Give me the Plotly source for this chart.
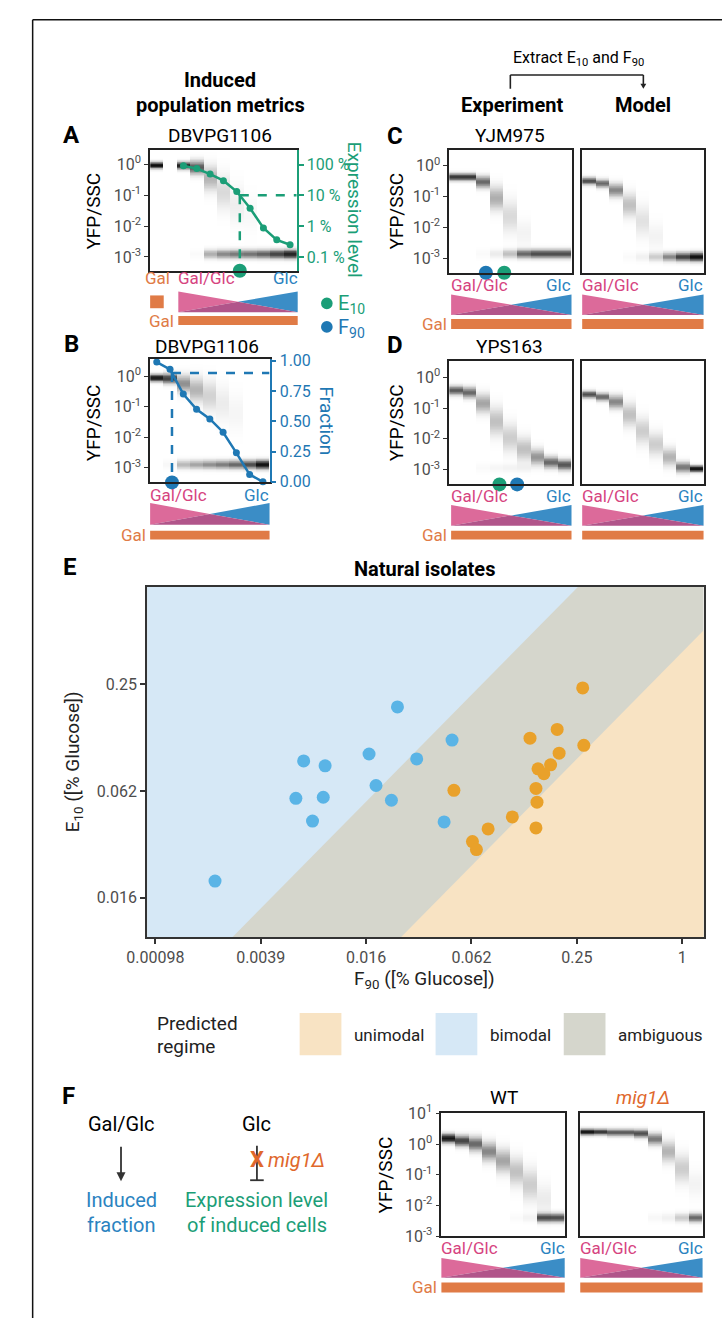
import numpy as np
import plotly.graph_objects as go

W, H = 722, 1328
FONT = "Roboto"
TICK_GRAY = "#4d4d4d"
BOX = "#222222"
GREEN = "#1b9e77"
BLUE = "#1f78b4"
PINK_TXT = "#d6447f"
BLUE_TXT = "#2b83c0"
ORANGE = "#e07b46"
ORANGE_TXT = "#e0682c"
PINK_FILL = "#dc6a9a"
BLUE_FILL = "#3b8dc6"
OVERLAP = "#b1558a"

# ---------------- data ----------------
# Panel A: DBVPG1106 (11 columns: Gal, blank, 9 Gal/Glc steps)
A_up_c = [-0.03, 0.0, -0.04, -0.10, -0.45, -0.90, -1.30, -1.60, -2.0, -2.3, -2.5]
A_up_w = [0.95, 0.0, 0.85, 0.60, 0.30, 0.15, 0.07, 0.03, 0.0, 0.0, 0.0]
A_up_s = [0.07, 0.1, 0.08, 0.15, 0.27, 0.38, 0.42, 0.40, 0.4, 0.4, 0.4]
A_lo_c = -2.92
A_lo_w = [0, 0, 0, 0.02, 0.32, 0.45, 0.50, 0.52, 0.58, 0.70, 0.85]
A_expr_cols = [2, 3, 4, 5, 6, 7, 8, 9, 10]
A_expr_pct = [91, 74, 49, 30, 13.3, 3.8, 0.87, 0.36, 0.25]

# Panel B: DBVPG1106 (9 Gal/Glc steps)
B_up_c = [-0.06, -0.08, -0.25, -0.45, -0.65, -0.90, -1.20, -1.5, -1.8]
B_up_w = [0.90, 0.70, 0.42, 0.30, 0.18, 0.08, 0.04, 0.0, 0.0]
B_up_s = [0.08, 0.11, 0.19, 0.27, 0.34, 0.40, 0.42, 0.4, 0.4]
B_lo_c = -2.90
B_lo_w = [0, 0.03, 0.28, 0.35, 0.42, 0.48, 0.55, 0.65, 0.92]
B_frac = [0.99, 0.93, 0.725, 0.60, 0.52, 0.41, 0.24, 0.06, 0.0]

# Panel C: YJM975 experiment / model
C_up_c = [-0.37, -0.37, -0.53, -1.06, -1.65, -2.2, -2.5, -2.7, -2.8]
C_up_w = [0.75, 0.75, 0.55, 0.32, 0.15, 0.05, 0, 0, 0]
C_up_s = [0.08, 0.08, 0.13, 0.26, 0.36, 0.30, 0.3, 0.3, 0.3]
C_lo_c = -2.87
C_lo_w = [0, 0, 0.02, 0.08, 0.25, 0.55, 0.65, 0.65, 0.65]
Cm_up_c = [-0.50, -0.58, -0.80, -1.28, -1.80, -2.3, -2.5, -2.7, -2.8]
Cm_up_w = [0.65, 0.55, 0.45, 0.25, 0.12, 0.05, 0, 0, 0]
Cm_up_s = [0.08, 0.09, 0.15, 0.26, 0.34, 0.30, 0.3, 0.3, 0.3]
Cm_lo_c = -2.97
Cm_lo_w = [0, 0, 0, 0.02, 0.06, 0.20, 0.45, 0.70, 0.92]
C_F90_pos, C_E10_pos = 2.2, 3.55

# Panel D: YPS163 experiment / model
D_up_c = [-0.43, -0.50, -0.85, -1.44, -1.97, -2.34, -2.60, -2.77, -2.85]
D_up_w = [0.60, 0.55, 0.35, 0.25, 0.20, 0.25, 0.40, 0.55, 0.62]
D_up_s = [0.10, 0.12, 0.21, 0.31, 0.31, 0.26, 0.18, 0.13, 0.12]
D_lo_c = -2.95
D_lo_w = [0, 0, 0.02, 0.04, 0.05, 0.05, 0, 0, 0]
Dm_up_c = [-0.56, -0.64, -0.80, -1.22, -1.75, -2.18, -2.60, -2.93, -2.98]
Dm_up_w = [0.65, 0.55, 0.45, 0.25, 0.20, 0.20, 0.30, 0.50, 0.95]
Dm_up_s = [0.08, 0.09, 0.15, 0.26, 0.29, 0.26, 0.20, 0.12, 0.07]
Dm_lo_c = -2.98
Dm_lo_w = [0, 0, 0, 0, 0, 0, 0, 0, 0]
D_E10_pos, D_F90_pos = 3.2, 4.5

# Panel E: natural isolates
E_blue_F90 = [0.0236, 0.00687, 0.00911, 0.01624, 0.0304, 0.0178, 0.00620,
              0.00889, 0.0218, 0.00772, 0.00214, 0.0484, 0.0436]
E_blue_E10 = [0.186, 0.0923, 0.0866, 0.101, 0.0947, 0.0671, 0.0568,
              0.0576, 0.0554, 0.0423, 0.0194, 0.121, 0.0418]
E_orange_F90 = [0.270, 0.193, 0.135, 0.274, 0.198, 0.177, 0.150, 0.162,
                0.0496, 0.146, 0.148, 0.107, 0.146, 0.0778, 0.0633, 0.0667]
E_orange_E10 = [0.238, 0.139, 0.124, 0.113, 0.102, 0.0877, 0.0833, 0.0782,
                0.0630, 0.0646, 0.0540, 0.0446, 0.0387, 0.0382, 0.0324, 0.0292]
E_xtick_vals = [0.0009765625, 0.00390625, 0.015625, 0.0625, 0.25, 1]
E_xtick_text = ["0.00098", "0.0039", "0.016", "0.062", "0.25", "1"]
E_ytick_vals = [0.015625, 0.0625, 0.25]
E_ytick_text = ["0.016", "0.062", "0.25"]
BIMODAL_RATIO = 4 ** 0.9     # E10 / F90 above which -> bimodal
UNIMODAL_RATIO = 4 ** -0.7   # E10 / F90 below which -> unimodal
REGIMES = ["unimodal", "bimodal", "ambiguous"]
REGIME_COLORS = ["#f8e3c3", "#d6e8f6", "#d5d6cc"]

# Panel F: WT / mig1 deletion
W_up_c = [0.18, 0.10, 0.0, -0.25, -0.55, -0.90, -1.33, -1.80, -2.2]
W_up_w = [0.90, 0.70, 0.55, 0.45, 0.35, 0.25, 0.20, 0.08, 0.0]
W_up_s = [0.10, 0.12, 0.16, 0.21, 0.26, 0.31, 0.36, 0.35, 0.3]
W_lo_c = -2.40
W_lo_w = [0, 0, 0, 0, 0, 0.02, 0.05, 0.65, 0.65]
M_up_c = [0.39, 0.39, 0.37, 0.37, 0.34, 0.16, -0.25, -0.80, -1.3]
M_up_w = [0.90, 0.75, 0.60, 0.60, 0.65, 0.50, 0.30, 0.20, 0.05]
M_up_s = [0.07, 0.07, 0.08, 0.08, 0.09, 0.13, 0.23, 0.31, 0.3]
M_lo_c = -2.40
M_lo_w = [0, 0, 0, 0, 0, 0.03, 0.06, 0.20, 0.55]

LOG_TEXT = {1: "10<sup>1</sup>", 0: "10<sup>0</sup>", -1: "10<sup>-1</sup>",
            -2: "10<sup>-2</sup>", -3: "10<sup>-3</sup>"}

# ---------------- helpers ----------------
YGRID = np.linspace(-3.6, 1.1, 236)
LO_SIGMA = 0.1
GRAY_SCALE = [[0, "#ffffff"], [0.08, "#ececec"], [0.3, "#b4b4b4"],
              [0.6, "#5a5a5a"], [1, "#000000"]]


def density(up_c, up_w, up_s, lo_c, lo_w):
    yy = YGRID[:, None]
    z = np.array(up_w)[None, :] * np.exp(-0.5 * ((yy - np.array(up_c)[None, :]) / np.array(up_s)[None, :]) ** 2)
    z = z + np.array(lo_w)[None, :] * np.exp(-0.5 * ((yy - lo_c) / LO_SIGMA) ** 2)
    return np.clip(z, 0, 1)


def xn(n):
    return "x" if n == 1 else f"x{n}"


def yn(n):
    return "y" if n == 1 else f"y{n}"


def xa(n):
    return "xaxis" if n == 1 else f"xaxis{n}"


def ya(n):
    return "yaxis" if n == 1 else f"yaxis{n}"


fig = go.Figure()
layout = dict(width=W, height=H, margin=dict(l=0, r=0, t=0, b=0),
              paper_bgcolor="white", plot_bgcolor="white", showlegend=False,
              font=dict(family=FONT, color="#000"))
shapes, ann = [], []


def T(x, y, s, size=16, color="#000", xanchor="center", yanchor="middle", angle=0):
    ann.append(dict(x=x / W, y=1 - y / H, xref="paper", yref="paper", text=s, showarrow=False,
                    font=dict(family=FONT, size=size, color=color), xanchor=xanchor,
                    yanchor=yanchor, textangle=angle))


def rect(x0, y0, x1, y1, color):
    shapes.append(dict(type="rect", xref="paper", yref="paper", x0=x0 / W, x1=x1 / W,
                       y0=1 - y1 / H, y1=1 - y0 / H, fillcolor=color, line=dict(width=0)))


def poly(pts, color):
    path = "M " + " L ".join(f"{x / W:.5f},{1 - y / H:.5f}" for x, y in pts) + " Z"
    shapes.append(dict(type="path", xref="paper", yref="paper", path=path,
                       fillcolor=color, line=dict(width=0)))


def seg(x0, y0, x1, y1, color="#222", w=1.6):
    shapes.append(dict(type="line", xref="paper", yref="paper", x0=x0 / W, y0=1 - y0 / H,
                       x1=x1 / W, y1=1 - y1 / H, line=dict(color=color, width=w)))


def circle(x, y, d, color):
    shapes.append(dict(type="circle", xref="paper", yref="paper", x0=(x - d / 2) / W,
                       x1=(x + d / 2) / W, y0=1 - (y + d / 2) / H, y1=1 - (y - d / 2) / H,
                       fillcolor=color, line=dict(width=0)))


def gradient_block(x0, x1, ylab, yt0, yt1, yb0, yb1, gal_x=None):
    T(x0 - 2, ylab, "Gal/Glc", 17, PINK_TXT, xanchor="left")
    T(x1 + 2, ylab, "Glc", 17, BLUE_TXT, xanchor="right")
    xm, ym = (x0 + x1) / 2, (yt0 + yt1) / 2
    poly([(x0, yt0), (xm, ym), (x0, yt1)], PINK_FILL)
    poly([(x1, yt0), (xm, ym), (x1, yt1)], BLUE_FILL)
    poly([(x0, yt1), (xm, ym), (x1, yt1)], OVERLAP)
    rect(x0, yb0, x1, yb1, ORANGE)
    if gal_x is not None:
        T(gal_x, (yb0 + yb1) / 2, "Gal", 17, ORANGE, xanchor="right")


def heat_axes(n, box, ncol, yr, tickvals=None, mirror_y=True):
    x0, x1, y0, y1 = box
    layout[xa(n)] = dict(domain=[x0 / W, x1 / W], anchor=yn(n), range=[-0.5, ncol - 0.5],
                         showticklabels=False, ticks="", showgrid=False, zeroline=False,
                         showline=True, mirror=True, linecolor=BOX, linewidth=1.6, fixedrange=True)
    ax = dict(domain=[1 - y1 / H, 1 - y0 / H], anchor=xn(n), range=yr, showgrid=False,
              zeroline=False, showline=True, mirror=mirror_y, linecolor=BOX, linewidth=1.6,
              fixedrange=True)
    if tickvals:
        ax.update(tickmode="array", tickvals=tickvals, ticktext=[LOG_TEXT[v] for v in tickvals],
                  ticks="outside", ticklen=4, tickwidth=1.3, tickcolor="#333",
                  tickfont=dict(family=FONT, size=16, color=TICK_GRAY))
    else:
        ax.update(showticklabels=False, ticks="")
    layout[ya(n)] = ax


def add_heat(n, z):
    fig.add_trace(go.Heatmap(x=np.arange(z.shape[1]), y=YGRID, z=z, zmin=0, zmax=1,
                             colorscale=GRAY_SCALE, showscale=False,
                             hoverinfo="skip", xaxis=xn(n), yaxis=yn(n)))


# ---------------- frame lines ----------------
seg(12, 9, 722, 9, "#111", 1.5)
seg(12, 9, 12, 1328, "#111", 1.5)

# ---------------- Panel A ----------------
A_range = [-3.45, 0.48]
heat_axes(1, (133, 284, 141, 264), 11, A_range, [0, -1, -2, -3], mirror_y=False)
add_heat(1, density(A_up_c, A_up_w, A_up_s, A_lo_c, A_lo_w))
layout["yaxis2"] = dict(overlaying="y", side="right", anchor="x", range=A_range,
                        tickmode="array", tickvals=[0, -1, -2, -3],
                        ticktext=["100 %", "10 %", "1 %", "0.1 %"], ticks="outside",
                        ticklen=5, tickwidth=1.5, tickcolor=GREEN, showgrid=False, zeroline=False,
                        showline=True, linecolor=GREEN, linewidth=1.8,
                        tickfont=dict(family=FONT, size=16, color=GREEN), fixedrange=True)
a_log = np.log10(np.array(A_expr_pct) / 100.0)
a_cross = float(np.interp(-1, a_log[::-1], np.array(A_expr_cols)[::-1]))
fig.add_trace(go.Scatter(x=[a_cross, 10.5], y=[-1, -1], mode="lines", xaxis="x", yaxis="y2",
                         line=dict(color=GREEN, width=2.5, dash="dash"), hoverinfo="skip", cliponaxis=False))
fig.add_trace(go.Scatter(x=[a_cross, a_cross], y=[-1, A_range[0]], mode="lines", xaxis="x", yaxis="y2",
                         line=dict(color=GREEN, width=2.5, dash="dash"), hoverinfo="skip"))
fig.add_trace(go.Scatter(x=A_expr_cols, y=a_log, mode="lines+markers", xaxis="x", yaxis="y2",
                         line=dict(color=GREEN, width=2.5), marker=dict(size=7, color=GREEN),
                         cliponaxis=False))
fig.add_trace(go.Scatter(x=[a_cross], y=[A_range[0]], mode="markers", xaxis="x", yaxis="y2",
                         marker=dict(size=14, color=GREEN), cliponaxis=False))

T(205, 70, "<b>Induced</b>", 20)
T(205, 96, "<b>population metrics</b>", 20)
T(52, 126, "<b>A</b>", 24)
T(205, 126, "DBVPG1106", 19)
T(75, 203, "YFP/SSC", 19, angle=-90)
T(343, 202, "Expression level", 19, GREEN, angle=90)
circle(315, 297, 12, GREEN)
T(324, 298, "E<sub>10</sub>", 20, GREEN, xanchor="left")
circle(315, 321, 12, BLUE)
T(324, 322, "F<sub>90</sub>", 20, BLUE, xanchor="left")
# gradient under A
T(141, 271, "Gal", 17, ORANGE)
rect(133, 289, 147, 302, ORANGE)
gradient_block(162, 285, 271, 285, 306, 310, 319, gal_x=160)

# ---------------- Panel B ----------------
B_range = [-3.48, 0.55]
F_range = [-0.005, 1.012]
heat_axes(3, (133, 256, 354, 479), 9, B_range, [0, -1, -2, -3], mirror_y=False)
add_heat(3, density(B_up_c, B_up_w, B_up_s, B_lo_c, B_lo_w))
layout["yaxis4"] = dict(overlaying="y3", side="right", anchor="x3", range=F_range,
                        tickmode="array", tickvals=[0, 0.25, 0.5, 0.75, 1.0],
                        ticktext=["0.00", "0.25", "0.50", "0.75", "1.00"], ticks="outside",
                        ticklen=5, tickwidth=1.5, tickcolor=BLUE, showgrid=False, zeroline=False,
                        showline=True, linecolor=BLUE, linewidth=1.8,
                        tickfont=dict(family=FONT, size=16, color=BLUE), fixedrange=True)
b_cols = np.arange(len(B_frac))
b_cross = float(np.interp(0.9, np.array(B_frac)[::-1], b_cols[::-1]))
fig.add_trace(go.Scatter(x=[b_cross, 8.5], y=[0.9, 0.9], mode="lines", xaxis="x3", yaxis="y4",
                         line=dict(color=BLUE, width=2.5, dash="dash"), hoverinfo="skip"))
fig.add_trace(go.Scatter(x=[b_cross, b_cross], y=[0.9, F_range[0]], mode="lines", xaxis="x3", yaxis="y4",
                         line=dict(color=BLUE, width=2.5, dash="dash"), hoverinfo="skip"))
fig.add_trace(go.Scatter(x=b_cols, y=B_frac, mode="lines+markers", xaxis="x3", yaxis="y4",
                         line=dict(color=BLUE, width=2.5), marker=dict(size=7, color=BLUE),
                         cliponaxis=False))
fig.add_trace(go.Scatter(x=[b_cross], y=[F_range[0]], mode="markers", xaxis="x3", yaxis="y4",
                         marker=dict(size=14, color=BLUE), cliponaxis=False))
T(52, 338, "<b>B</b>", 24)
T(192, 341, "DBVPG1106", 19)
T(75, 418, "YFP/SSC", 19, angle=-90)
T(315, 417, "Fraction", 19, BLUE, angle=90)
gradient_block(133, 256, 492, 500, 522, 528, 537, gal_x=131)

# ---------------- Panels C & D ----------------
CD_range = [-3.48, 0.52]
heat_axes(5, (441, 567, 141, 266), 9, CD_range, [0, -1, -2, -3])
add_heat(5, density(C_up_c, C_up_w, C_up_s, C_lo_c, C_lo_w))
heat_axes(6, (578, 703, 141, 266), 9, CD_range)
add_heat(6, density(Cm_up_c, Cm_up_w, Cm_up_s, Cm_lo_c, Cm_lo_w))
heat_axes(7, (441, 567, 356, 481), 9, CD_range, [0, -1, -2, -3])
add_heat(7, density(D_up_c, D_up_w, D_up_s, D_lo_c, D_lo_w))
heat_axes(8, (578, 703, 356, 481), 9, CD_range)
add_heat(8, density(Dm_up_c, Dm_up_w, Dm_up_s, Dm_lo_c, Dm_lo_w))
for n, pos, col in [(5, C_F90_pos, BLUE), (5, C_E10_pos, GREEN),
                    (7, D_E10_pos, GREEN), (7, D_F90_pos, BLUE)]:
    fig.add_trace(go.Scatter(x=[pos], y=[CD_range[0]], mode="markers", xaxis=xn(n), yaxis=yn(n),
                             marker=dict(size=14, color=col), cliponaxis=False))

T(574, 48, "Extract E<sub>10</sub> and F<sub>90</sub>", 16)
seg(504, 79, 504, 65, "#222", 1.6)
seg(504, 65, 641, 65, "#222", 1.6)
seg(641, 65, 641, 75, "#222", 1.6)
poly([(638, 74), (644, 74), (641, 79)], "#222")
T(506, 96, "<b>Experiment</b>", 20)
T(641, 96, "<b>Model</b>", 20)
T(385, 127, "<b>C</b>", 24)
T(504, 127, "YJM975", 19)
T(387, 203, "YFP/SSC", 19, angle=-90)
T(385, 339, "<b>D</b>", 24)
T(503, 341, "YPS163", 19)
T(387, 418, "YFP/SSC", 19, angle=-90)
gradient_block(443, 567, 278, 288, 309, 313, 323, gal_x=441)
gradient_block(578, 703, 278, 288, 309, 313, 323)
gradient_block(443, 567, 493, 502, 523, 528, 537, gal_x=441)
gradient_block(578, 703, 493, 502, 523, 528, 537)

# ---------------- Panel E ----------------
BIG, SMALL = 1e2, 1e-5
fig.add_trace(go.Scatter(x=[SMALL, BIG, BIG, SMALL], y=[SMALL, SMALL, BIG, BIG], fill="toself",
                         fillcolor=REGIME_COLORS[2], line=dict(width=0), mode="lines",
                         xaxis="x9", yaxis="y9", hoverinfo="skip"))
fig.add_trace(go.Scatter(x=[SMALL, BIG, SMALL], y=[BIMODAL_RATIO * SMALL, BIMODAL_RATIO * BIG, BIMODAL_RATIO * BIG],
                         fill="toself", fillcolor=REGIME_COLORS[1], line=dict(width=0), mode="lines",
                         xaxis="x9", yaxis="y9", hoverinfo="skip"))
fig.add_trace(go.Scatter(x=[SMALL, BIG, BIG], y=[UNIMODAL_RATIO * SMALL, UNIMODAL_RATIO * BIG, UNIMODAL_RATIO * SMALL],
                         fill="toself", fillcolor=REGIME_COLORS[0], line=dict(width=0), mode="lines",
                         xaxis="x9", yaxis="y9", hoverinfo="skip"))
fig.add_trace(go.Scatter(x=E_blue_F90, y=E_blue_E10, mode="markers", xaxis="x9", yaxis="y9",
                         marker=dict(size=13, color="#5ab4e6")))
fig.add_trace(go.Scatter(x=E_orange_F90, y=E_orange_E10, mode="markers", xaxis="x9", yaxis="y9",
                         marker=dict(size=13, color="#e9a12a")))
layout["xaxis9"] = dict(domain=[130 / W, 703 / W], anchor="y9", type="log", range=[-3.057, 0.122],
                        tickmode="array", tickvals=E_xtick_vals, ticktext=E_xtick_text,
                        ticks="outside", ticklen=5, tickwidth=1.5, tickcolor="#333",
                        tickfont=dict(family=FONT, size=16, color=TICK_GRAY), showgrid=False,
                        zeroline=False, showline=True, mirror=True, linecolor="#333", linewidth=2,
                        fixedrange=True)
layout["yaxis9"] = dict(domain=[1 - 941 / H, 1 - 585 / H], anchor="x9", type="log", range=[-2.028, -0.053],
                        tickmode="array", tickvals=E_ytick_vals, ticktext=E_ytick_text,
                        ticks="outside", ticklen=5, tickwidth=1.5, tickcolor="#333",
                        tickfont=dict(family=FONT, size=16, color=TICK_GRAY), showgrid=False,
                        zeroline=False, showline=True, mirror=True, linecolor="#333", linewidth=2,
                        fixedrange=True)
T(50, 565, "<b>E</b>", 24)
T(416, 567, "<b>Natural isolates</b>", 20)
T(55, 763, "E<sub>10</sub> ([% Glucose])", 19, "#222", angle=-90)
T(416, 984, "F<sub>90</sub> ([% Glucose])", 19, "#222")
# regime legend
T(138, 1029, "Predicted", 19, "#222", xanchor="left")
T(138, 1052, "regime", 19, "#222", xanchor="left")
sw_x = [287, 427, 559]
lab_x = [341, 481, 613]
for i, name in enumerate(REGIMES):
    rect(sw_x[i], 1018, sw_x[i] + 43, 1061, REGIME_COLORS[i])
    T(lab_x[i], 1040, name, 17, "#222", xanchor="left")

# ---------------- Panel F ----------------
F_range_y = [-3, 1]
heat_axes(10, (433, 560, 1120, 1245), 9, F_range_y, [1, 0, -1, -2, -3])
add_heat(10, density(W_up_c, W_up_w, W_up_s, W_lo_c, W_lo_w))
heat_axes(11, (576, 702, 1120, 1245), 9, F_range_y)
add_heat(11, density(M_up_c, M_up_w, M_up_s, M_lo_c, M_lo_w))
T(497, 1104, "WT", 19)
T(641, 1104, "<i>mig1Δ</i>", 19, ORANGE_TXT)
T(375, 1183, "YFP/SSC", 19, angle=-90)
gradient_block(433, 560, 1257, 1267, 1287, 1292, 1302, gal_x=431)
gradient_block(576, 702, 1257, 1267, 1287, 1292, 1302)

T(49, 1102, "<b>F</b>", 24)
T(103, 1131, "Gal/Glc", 20)
T(243, 1131, "Glc", 20)
ann.append(dict(x=103 / W, y=1 - 1189 / H, xref="paper", yref="paper", text="", showarrow=True,
                ax=0, ay=-36, arrowhead=2, arrowsize=1, arrowwidth=1.8, arrowcolor="#333"))
seg(243, 1153, 243, 1188, "#333", 1.8)
seg(236, 1188, 250, 1188, "#333", 1.8)
T(243, 1167, "<b>X</b>", 22, ORANGE_TXT)
T(252, 1167, "<i>mig1Δ</i>", 20, ORANGE_TXT, xanchor="left")
T(103, 1208, "Induced", 20, BLUE_TXT)
T(103, 1233, "fraction", 20, BLUE_TXT)
T(243, 1208, "Expression level", 20, GREEN)
T(243, 1233, "of induced cells", 20, GREEN)

layout["shapes"] = shapes
layout["annotations"] = ann
fig.update_layout(**layout)
fig.write_html("out.html", config={"displayModeBar": False},
               post_script="document.body.style.margin='0';document.body.style.overflow='hidden';")
